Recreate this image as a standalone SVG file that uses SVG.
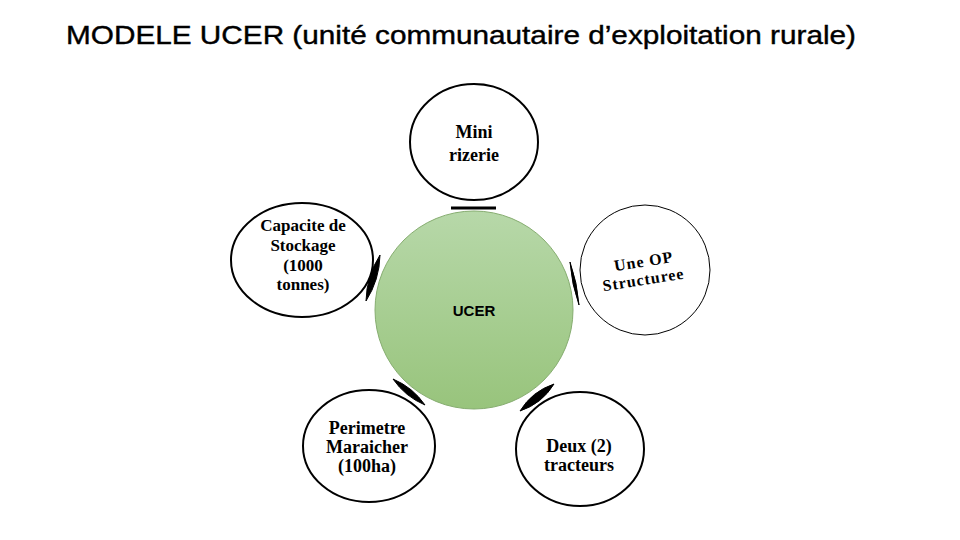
<svg xmlns="http://www.w3.org/2000/svg" width="960" height="540" viewBox="0 0 960 540">
<defs>
<linearGradient id="g" x1="0" y1="0" x2="0" y2="1">
<stop offset="0" stop-color="#b7d8a9"/>
<stop offset="1" stop-color="#98c47c"/>
</linearGradient>
<style>
.node{fill:#fff;stroke:#000;stroke-width:2}
.lbl{font-family:"Liberation Serif","Times New Roman",serif;font-weight:bold;font-size:18px;text-anchor:middle;fill:#000}
.sm{font-size:17px}
.op{font-size:16px;letter-spacing:1px}
.con{fill:#000;stroke:#000;stroke-width:1}
</style>
</defs>
<rect width="960" height="540" fill="#fff"/>
<text x="66" y="44" font-family="Liberation Sans, Arial, sans-serif" font-size="26" textLength="790" lengthAdjust="spacingAndGlyphs" fill="#000" stroke="#000" stroke-width="0.4">MODELE UCER (unité communautaire d’exploitation rurale)</text>

<g id="connectors">
<line x1="451" y1="208" x2="496" y2="208" stroke="#000" stroke-width="3"/>
<path class="con" d="M380,255 Q379.5,279.8 366,301 Q366.5,276.2 380,255 Z"/>
<path class="con" d="M570,262 Q577.4,282.9 579,305 Q571.6,284.1 570,262 Z"/>
<path class="con" d="M393,379 Q412.8,387.3 425,405 Q405.2,396.7 393,379 Z"/>
<path class="con" d="M554,384 Q542,403.7 520,411 Q532,391.3 554,384 Z"/>
</g>

<g id="ucer">
<circle cx="474" cy="310" r="99" fill="url(#g)" stroke="#86ad70" stroke-width="1"/>
<text x="474" y="316" font-family="Liberation Sans, Arial, sans-serif" font-weight="bold" font-size="15" text-anchor="middle" fill="#000">UCER</text>
</g>

<g id="mini-rizerie">
<ellipse class="node" cx="474" cy="142" rx="64" ry="58"/>
<text class="lbl" x="474" y="138">Mini</text>
<text class="lbl" x="474" y="161">rizerie</text>
</g>

<g id="capacite">
<ellipse class="node" cx="302" cy="260" rx="71" ry="57"/>
<text class="lbl sm" x="303" y="231">Capacite de</text>
<text class="lbl sm" x="303" y="251">Stockage</text>
<text class="lbl sm" x="303" y="271">(1000</text>
<text class="lbl sm" x="303" y="290">tonnes)</text>
</g>

<g id="op-structuree">
<circle cx="645" cy="270" r="65" fill="#fff" stroke="#000" stroke-width="1"/>
<g transform="rotate(-9 642 270)">
<text class="lbl op" x="645" y="267">Une OP</text>
<text class="lbl op" x="642" y="285">Structuree</text>
</g>
</g>

<g id="perimetre">
<ellipse class="node" cx="369" cy="446" rx="66" ry="56"/>
<text class="lbl" x="367" y="434">Perimetre</text>
<text class="lbl" x="367" y="453">Maraicher</text>
<text class="lbl" x="367" y="472">(100ha)</text>
</g>

<g id="tracteurs">
<ellipse class="node" cx="580" cy="449" rx="64" ry="57"/>
<text class="lbl" x="579" y="452">Deux (2)</text>
<text class="lbl" x="579" y="471">tracteurs</text>
</g>
</svg>
